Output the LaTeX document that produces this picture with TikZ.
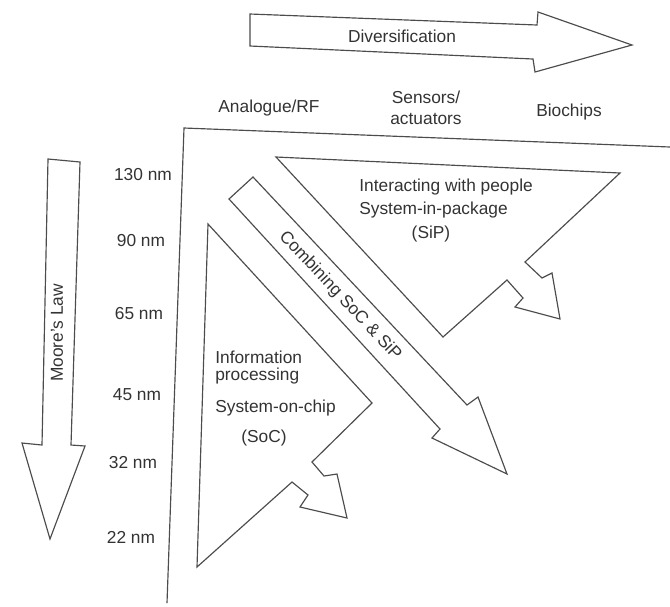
\documentclass[tikz,border=0pt]{standalone}
\usepackage{fontspec}
\setmainfont{Liberation Sans}
\usepackage{xcolor}
\usepackage{tikz}
\usetikzlibrary{calc}

\begin{document}
\begin{tikzpicture}[
    x=0.6pt, y=-0.6pt,
    outline/.style={draw=black!70, line width=0.7pt, line join=miter},
    lbl/.style={font=\fontsize{10.4}{12.5}\selectfont, text=black!80, inner sep=0pt, align=center},
    lblw/.style={lbl, anchor=west}
]
    \useasboundingbox (0,0) rectangle (670,606);

    % Frame
    \coordinate (corner) at (184,128);
    \draw[outline] (670,147) -- (corner) -- (167,603);

    % Diversification arrow
    \draw[outline] (250,14) -- (537,25) -- (538,12) -- (632,45) -- (535,72) -- (533,59) -- (250,46) -- cycle;
    \node[lbl] (divers) at (402,36) {Diversification};

    % Moore's Law arrow
    \draw[outline] (48,159) -- (80,162) -- (71,445) -- (85,446) -- (50,539) -- (22,443) -- (42,445) -- cycle;
    \node[lbl, rotate=90] (moore) at (57,333) {Moore's Law};

    % Column heads
    \node[lbl] (analogue) at (269,108) {Analogue/RF};
    \node[lbl] (sensors) at (426,108) {Sensors/\\actuators};
    \node[lbl] (biochips) at (569,112) {Biochips};

    % Row heads
    \node[lbl] (n130) at (143,175) {130 nm};
    \node[lbl] (n90) at (141,241) {90 nm};
    \node[lbl] (n65) at (139,314) {65 nm};
    \node[lbl] (n45) at (137,395) {45 nm};
    \node[lbl] (n32) at (133,463) {32 nm};
    \node[lbl] (n22) at (131,537) {22 nm};

    % SiP triangle
    \draw[outline] (276,157) -- (620,173) -- (525,262) -- (542,278) -- (552,273) -- (560,319)
        -- (515,307) -- (523,298) -- (507,280) -- (443,337) -- cycle;
    \node[lblw] (sip1) at (359,187) {Interacting with people};
    \node[lblw] (sip2) at (359,210) {System-in-package};
    \node[lbl] (sip3) at (431,234) {(SiP)};

    % Combining arrow
    \draw[outline] (229,199) -- (253,177) -- (467,405) -- (478,397) -- (507,474) -- (432,438) -- (440,429) -- cycle;
    \node[lbl, rotate=-46.8] (combine) at (340,296) {Combining SoC \& SiP};

    % SoC triangle
    \draw[outline] (208,224) -- (372,403) -- (312,462) -- (324,476) -- (337,474) -- (347,518)
        -- (300,507) -- (308,495) -- (292,482) -- (197,567) -- cycle;
    \node[lblw] (soc1) at (215,357) {Information};
    \node[lblw] (soc2) at (215,376) {processing};
    \node[lblw] (soc3) at (215,408) {System-on-chip};
    \node[lbl] (soc4) at (264,438) {(SoC)};

\end{tikzpicture}
\end{document}
